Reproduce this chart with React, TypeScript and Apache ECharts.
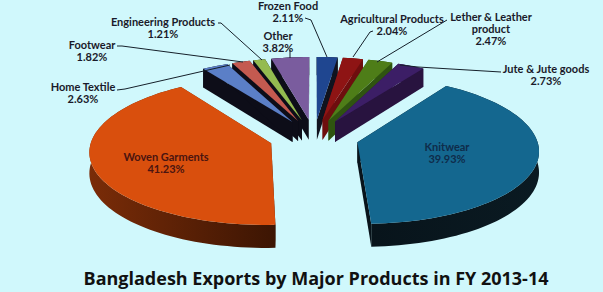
import React, { useEffect, useRef } from "react";
import * as echarts from "echarts";

const products = ["Frozen Food", "Agricultural Products", "Lether & Leather\nproduct", "Jute & Jute goods", "Knitwear", "Woven Garments", "Home Textile", "Footwear", "Engineering Products", "Other"];
const shares = [2.11, 2.04, 2.47, 2.73, 39.93, 41.23, 2.63, 1.82, 1.21, 3.82];
const topColors = ["#1f4690", "#8e1414", "#4e7d18", "#3c1e66", "#14678f", "#d94f0d", "#5b7fc7", "#c45a50", "#94bb50", "#7a5c9e"];
const wallLeft = ["#10131f", "#6e0e0e", "#2f5410", "#28133f", "#08141b", "#7a2c08", "#0d0d18", "#0d0d18", "#0d0d18", "#0d0d18"];
const wallRight = ["#10131f", "#6e0e0e", "#2f5410", "#28133f", "#0a1a22", "#3c1503", "#0d0d18", "#0d0d18", "#0d0d18", "#0d0d18"];

const BG = "#d0f8fc";
const CX = 314, CY = 137.4, A = 179, B = 72.4, D = 20.5, K = 0.1, EXPLODE = 0.25;

type Lab = { i: number; x: number; y: number; color: string };
const DARK = "#1a1a2a";
const labelSpots: Lab[] = [
  { i: 0, x: 288, y: 11, color: DARK }, { i: 1, x: 392, y: 24, color: DARK }, { i: 2, x: 491, y: 28, color: DARK }, { i: 3, x: 546, y: 74, color: DARK },
  { i: 4, x: 447, y: 152, color: "#0f2c4a" }, { i: 5, x: 166, y: 162, color: "#4a1410" }, { i: 6, x: 83, y: 92, color: DARK }, { i: 7, x: 92, y: 50, color: DARK },
  { i: 8, x: 163, y: 27, color: DARK }, { i: 9, x: 278, y: 41, color: DARK },
];
const leaders = [
  [[305, 18], [311, 20], [327, 57]],
  [[373, 31], [370, 32], [353, 57]],
  [[447, 20], [377, 62]],
  [[501, 72], [418, 67], [400, 65]],
  [[117, 90], [125, 89], [230, 65]],
  [[117, 46], [122, 46], [243, 62]],
  [[218, 23], [221, 23], [262, 60]],
  [[290, 50], [290, 58]],
];

const project = (X: number, Y: number, Z: number): number[] => {
  const s = 1 / (1 + K * Y);
  return [CX + A * X * s, CY - B * Y * s + D * Z * s];
};

const total = shares.reduce((a, b) => a + b, 0);

const renderSlice = (params: any, api: any) => {
  const i = params.dataIndex;
  const value = api.value(0) as number;
  let before = 0;
  for (let j = 0; j < i; j++) before += shares[j];
  const t0 = (before / total) * Math.PI * 2;
  const t1 = t0 + (value / total) * Math.PI * 2;
  const mid = (t0 + t1) / 2;
  const ax = EXPLODE * Math.sin(mid), ay = EXPLODE * Math.cos(mid);
  const n = Math.max(3, Math.ceil((t1 - t0) / (Math.PI / 90)));
  const rim: number[][] = [];
  for (let k = 0; k <= n; k++) {
    const t = t0 + ((t1 - t0) * k) / n;
    rim.push([ax + Math.sin(t), ay + Math.cos(t)]);
  }
  const z2 = Math.round((1.5 - ay) * 100);
  const children: any[] = [];
  const apex = [ax, ay];
  const wall = (pts: number[][], fill: any) => {
    children.push({
      type: "polygon",
      z2,
      shape: { points: [...pts.map((p) => project(p[0], p[1], 0)), ...pts.slice().reverse().map((p) => project(p[0], p[1], 1))] },
      style: { fill },
    });
  };
  wall([apex, rim[0]], wallRight[i]);
  wall([apex, rim[n]], wallLeft[i]);
  wall(rim, new echarts.graphic.LinearGradient(0, 0, 1, 0, [
    { offset: 0, color: wallLeft[i] },
    { offset: 1, color: wallRight[i] },
  ]));
  children.push({
    type: "polygon",
    z2: z2 + 1,
    shape: { points: [apex, ...rim].map((p) => project(p[0], p[1], 0)) },
    style: { fill: topColors[i] },
  });
  return { type: "group", children };
};

export default function App() {
  const ref = useRef<HTMLDivElement>(null);
  useEffect(() => {
    const chart = echarts.init(ref.current!, undefined, { renderer: "svg" });
    const labelEls = labelSpots.map((l) => ({
      type: "text",
      x: l.x,
      y: l.y,
      z: 20,
      style: {
        fontFamily: "Lato", fontWeight: "bold", fontSize: 11, lineHeight: 12, fill: l.color,
        text: `${products[l.i]}\n${shares[l.i].toFixed(2)}%`, align: "center", verticalAlign: "middle",
      },
    }));
    const leaderEls = leaders.map((pts) => ({
      type: "polyline",
      z: 19,
      shape: { points: pts },
      style: { stroke: "#15202a", lineWidth: 1, fill: "none" },
    }));
    chart.setOption({
      animation: false,
      backgroundColor: BG,
      title: {
        text: "Bangladesh Exports by Major Products in FY 2013-14",
        left: 311,
        top: 264,
        textAlign: "center",
        textStyle: { fontFamily: "Open Sans", fontWeight: "bold", fontSize: 18, color: "#111" },
      },
      series: [{
        type: "custom",
        coordinateSystem: "none",
        silent: true,
        data: shares.map((v) => [v]),
        renderItem: renderSlice,
      }],
      graphic: [...leaderEls, ...labelEls],
    });
    return () => chart.dispose();
  }, []);
  return <div ref={ref} style={{ position: "fixed", left: 0, top: 0, width: 603, height: 292 }} />;
}
